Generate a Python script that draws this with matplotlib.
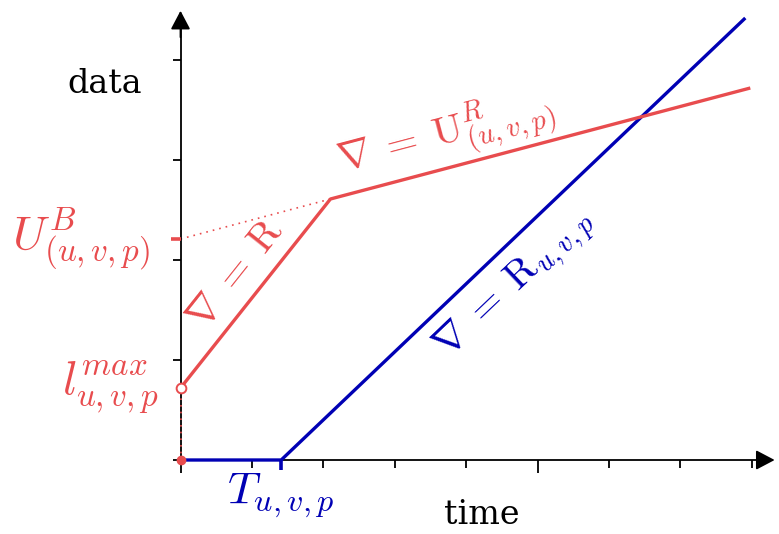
import matplotlib
matplotlib.use("Agg")
import matplotlib.pyplot as plt
import numpy as np

plt.rcParams['mathtext.fontset'] = 'cm'
plt.rcParams['font.family'] = 'DejaVu Serif'

# curve data (time in tick units, data in tick units)
red_x = [0.0, 2.1, 7.98]
red_y = [0.72, 2.61, 3.72]
blue_x = [0.0, 1.41, 7.91]
blue_y = [0.0, 0.0, 4.42]
l_max = 0.72
u_b = 2.21
t_uvp = 1.41

red = '#E84C4E'
blue = '#0000B4'

fig = plt.figure(figsize=(7.79, 5.34), dpi=100)
ax = fig.add_axes([0, 0, 1, 1])
ax.set_xlim(-2.528, 8.382)
ax.set_ylim(-0.74, 4.60)

# axes through the origin
for s in ['top', 'right']:
    ax.spines[s].set_visible(False)
ax.spines['left'].set_position(('data', 0))
ax.spines['bottom'].set_position(('data', 0))
ax.spines['left'].set_bounds(0, 4.4)
ax.spines['bottom'].set_bounds(0, 8.25)
ax.spines['left'].set_linewidth(1.3)
ax.spines['bottom'].set_linewidth(1.3)
ax.set_xticks([0, 5])
ax.set_xticks([1, 2, 3, 4, 6, 7, 8], minor=True)
ax.set_yticks([0, 1, 2, 3, 4])
ax.set_xticklabels([])
ax.set_yticklabels([])
ax.tick_params(axis='x', which='major', direction='out', length=9, width=1.3)
ax.tick_params(axis='x', which='minor', direction='out', length=6, width=1.3)
ax.tick_params(axis='y', direction='out', length=6, width=1.3)
head = '-|>,head_length=0.38,head_width=0.2'
ax.annotate('', xy=(8.36, 0), xytext=(8.1, 0), annotation_clip=False,
            arrowprops=dict(arrowstyle=head, color='k', lw=1.3, mutation_scale=30))
ax.annotate('', xy=(0, 4.52), xytext=(0, 4.2), annotation_clip=False,
            arrowprops=dict(arrowstyle=head, color='k', lw=1.3, mutation_scale=30))

# bound / rate lines
ax.plot([0, red_x[1]], [u_b, red_y[1]], color=red, lw=1.2, ls=(0, (1, 3)))
ax.plot([0, 0], [0, l_max], color=red, lw=1.2, ls=(0, (1, 3)), zorder=4)
ax.plot(blue_x, blue_y, color=blue, lw=2.4, solid_capstyle='butt', zorder=5)
ax.plot(red_x, red_y, color=red, lw=2.4, solid_capstyle='butt', zorder=5)
ax.plot([t_uvp, t_uvp], [0, -0.1], color=blue, lw=2.6, solid_capstyle='butt', zorder=5)
ax.plot([-0.14, 0], [u_b, u_b], color=red, lw=2.6, solid_capstyle='butt', zorder=5)
ax.plot([0], [0], 'o', color=red, ms=6, zorder=6)
ax.plot([0], [l_max], 'o', mfc='white', mec=red, mew=1.4, ms=7, zorder=6)

# labels
ax.text(-1.06, 3.76, 'data', fontsize=24, ha='center', va='center')
ax.text(4.22, -0.55, 'time', fontsize=24, ha='center', va='center')
ax.text(-0.3, l_max, r'$l^{max}_{u,v,p}$', color=red, fontsize=34, ha='right', va='center')
ax.text(-0.42, u_b, r'$U^B_{(u,v,p)}$', color=red, fontsize=34, ha='right', va='center')
ax.text(t_uvp, -0.36, r'$T_{u,v,p}$', color=blue, fontsize=33, ha='center', va='center')
ax.text(0.77, 1.85, r'$\nabla\;=\;\mathrm{R}$', color=red, fontsize=29,
        rotation=51.5, ha='center', va='center', rotation_mode='anchor')
ax.text(3.72, 3.25, r'$\nabla\;=\;\mathrm{U}^R_{(u,v,p)}$', color=red, fontsize=29,
        rotation=14.8, ha='center', va='center', rotation_mode='anchor')
ax.text(4.69, 1.75, r'$\nabla\;=\;\mathrm{R}_{u,v,p}$', color=blue, fontsize=29,
        rotation=43.6, ha='center', va='center', rotation_mode='anchor')

ax.set_facecolor('white')
fig.savefig('out.png', dpi=100, facecolor='white')
